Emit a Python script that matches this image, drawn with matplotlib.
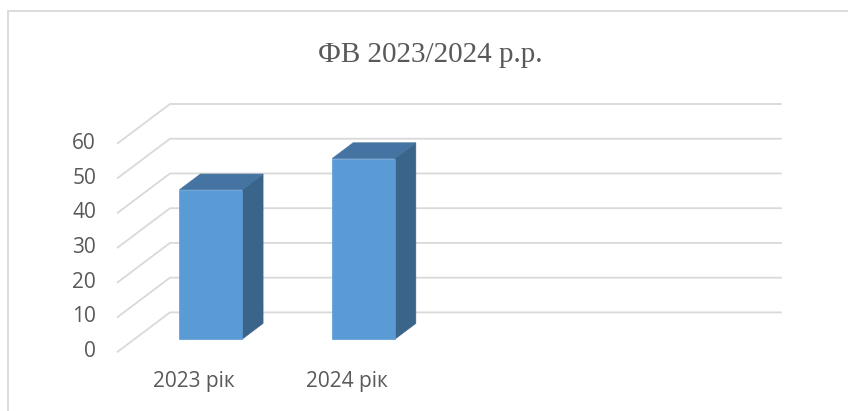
import matplotlib
matplotlib.use('Agg')
import matplotlib.pyplot as plt
from matplotlib.patches import Polygon, Rectangle

# ========== 数据 ==========
categories = ['2023 рік', '2024 рік', '', '']
values = [43, 52]
y_ticks = [0, 10, 20, 30, 40, 50, 60]
title = 'ФВ 2023/2024 р.р.'

# ========== 样式 ==========
front_color = '#5B9BD5'
top_color = '#4574A3'
side_color = '#3A6489'
grid_color = '#D9D9D9'
text_color = '#595959'

W, H = 848, 411
fig = plt.figure(figsize=(W / 100, H / 100), dpi=100)

# 前平面 (深度 0) 的坐标区域
x0, x1 = 117.7, 728.7
y0, y1 = 351.7, 143.3
ax = fig.add_axes([x0 / W, 1 - y0 / H, (x1 - x0) / W, (y0 - y1) / H])
n = len(categories)
ax.set_xlim(0, n)
ax.set_ylim(0, 60)
ax.axis('off')

# 斜投影: 深度 t (0=前, 1=后)
DX = 52.3 / ((x1 - x0) / n)
DY = 39.3 / ((y0 - y1) / 60)


def proj(x, y, t):
    return (x + DX * t, y + DY * t)


# 网格线: 左侧斜线 + 后墙横线
for v in y_ticks:
    xs, ys = zip(proj(0, v, 0), proj(0, v, 1), proj(n, v, 1))
    ax.plot(xs, ys, color=grid_color, lw=1.3, clip_on=False, zorder=1)
    ax.text(-0.142, v, str(v), ha='right', va='center', fontsize=15,
            family='Open Sans', color=text_color)

# 3D 柱子
t0, t1 = 0.32, 0.72
bw = 0.41
for i, v in enumerate(values):
    l = i + 0.5 - bw / 2
    r = i + 0.5 + bw / 2
    side = [proj(r, 0, t0), proj(r, 0, t1), proj(r, v, t1), proj(r, v, t0)]
    top = [proj(l, v, t0), proj(r, v, t0), proj(r, v, t1), proj(l, v, t1)]
    front = [proj(l, 0, t0), proj(r, 0, t0), proj(r, v, t0), proj(l, v, t0)]
    for pts, c in [(side, side_color), (top, top_color), (front, front_color)]:
        ax.add_patch(Polygon(pts, closed=True, facecolor=c, edgecolor=c,
                             lw=0.5, clip_on=False, zorder=3))

# 类别标签
for i, lab in enumerate(categories):
    ax.text(i + 0.5, -8.7, lab, ha='center', va='center', fontsize=15,
            family='Open Sans', color=text_color)

# 标题
fig.text(430 / W, 1 - 55 / H, title, ha='center', va='center', fontsize=21,
         family='Liberation Serif', color=text_color)

# 图表外框 (右侧和底部被截断)
fig.patches.append(Rectangle((8 / W, -0.1), 1.2, 1 - 11 / H + 0.1,
                             transform=fig.transFigure, fill=False,
                             edgecolor=grid_color, lw=1.3))

fig.savefig('out.png', dpi=100)
